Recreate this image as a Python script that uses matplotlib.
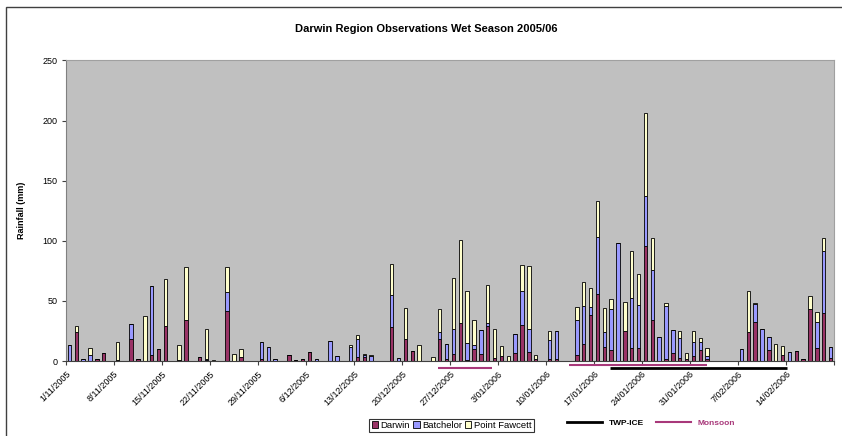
import matplotlib
matplotlib.use("Agg")
import matplotlib.pyplot as plt
from matplotlib.patches import Patch, Rectangle
from matplotlib.lines import Line2D
import matplotlib.transforms as mtransforms
import numpy as np

plt.rcParams['font.family'] = ['Liberation Sans', 'DejaVu Sans']

# Daily rainfall (mm), 1/11/2005 .. 20/02/2006 (112 days)
darwin = [
    0, 24, 0, 0, 2, 7, 0, 1, 0, 18, 2, 0, 5, 10,
    29, 0, 1, 34, 0, 3.5, 0.5, 0.3, 0, 42, 0, 3, 0, 0.3,
    1.5, 0, 0, 0, 4.7, 1, 2, 7.5, 0, 0.3, 0, 0, 0, 0,
    3.3, 3.6, 0, 0, 0, 28, 0, 18, 8.3, 0, 0.3, 0, 18, 1.4,
    5.8, 32, 0.6, 10, 5.8, 29.4, 2.5, 4.2, 0, 6.9, 30, 7.8, 1.4, 0,
    1.7, 1.7, 0.3, 0, 4.7, 14.4, 38.6, 56, 12, 9.2, 0, 24.7, 10.8, 10.6,
    95.8, 34, 0, 1.4, 6.4, 2.2, 1.4, 4.4, 8.9, 1.7, 0.3, 0, 0, 0,
    0, 24.2, 32.5, 0, 9.4, 0, 5.3, 0, 8.3, 1.7, 43.3, 10.6, 39.7, 2.2,
]
batchelor = [
    13, 0, 2, 5, 0, 0, 0, 0, 0, 12.5, 0, 0, 57, 0,
    0, 0, 0, 0, 0, 0, 1.5, 0, 0, 15, 0, 0, 0, 0,
    14, 12, 2, 0, 0, 0, 0, 0, 2, 0, 17, 4, 0, 11.5,
    15, 1.5, 4.5, 0, 0, 27, 2.2, 0, 0, 0, 0, 0, 6, 13,
    21, 0, 14, 3, 20, 2.5, 0, 0, 0, 15.3, 28, 19, 0, 0,
    15.5, 23, 0, 0, 29.2, 31, 6.4, 47, 12.3, 34.4, 98, 0, 41.7, 36,
    41.7, 42, 20.3, 44, 19.7, 16.7, 0, 11, 6.7, 2.5, 0, 0, 0, 0,
    9.7, 0, 15.3, 26.7, 10.9, 0, 0, 7.8, 0, 0, 0, 22, 52, 9.5,
]
point_fawcett = [
    0, 5, 0, 6, 0, 0, 0, 14.5, 0, 0, 0, 37.5, 0, 0,
    39, 0, 12, 44, 0, 0, 25, 0.3, 0, 21, 6, 7, 0, 0,
    0, 0, 0, 0, 0, 0, 0, 0, 0, 0, 0, 0, 0, 2,
    3.4, 1, 0.5, 0, 0, 26, 0, 26, 0, 13, 0, 3, 19.5, 0,
    42, 69, 44, 21, 0, 31, 24, 8, 4.4, 0, 22, 52, 3.3, 0,
    7.5, 0, 0, 0, 11.4, 20, 15.6, 30, 19.4, 7.8, 0, 24.5, 39, 26,
    69, 26, 0, 2.8, 0, 5.8, 5, 9.7, 3.3, 6.9, 0, 0, 0, 0,
    0, 34.4, 0.5, 0, 0, 13.9, 7.2, 0, 0, 0, 10.6, 8.1, 10.3, 0,
]
tick_labels = ['1/11/2005', '8/11/2005', '15/11/2005', '22/11/2005', '29/11/2005',
               '6/12/2005', '13/12/2005', '20/12/2005', '27/12/2005', '3/01/2006',
               '10/01/2006', '17/01/2006', '24/01/2006', '31/01/2006', '7/02/2006',
               '14/02/2006']
# periods as day offsets from 1/11/2005
monsoon_periods = [(54.2, 62.1), (73.3, 93.5)]
twp_ice_period = [(79.3, 105.1)]

c_darwin = '#993366'
c_batch = '#9999FF'
c_pf = '#FFFFCC'
c_monsoon = '#A8387A'

W, H = 842, 436
fig = plt.figure(figsize=(W / 100, H / 100), dpi=100)
fig.patch.set_facecolor('white')

# outer chart border
fig.patches.append(Rectangle((6 / W, -0.1), 2.0, (H - 7) / H + 0.1,
                             transform=fig.transFigure, fill=False,
                             edgecolor='#404040', linewidth=1.0))

left, right, top, bottom = 66, 834, 60.5, 361
ax = fig.add_axes([left / W, (H - bottom) / H, (right - left) / W, (bottom - top) / H])
ax.set_facecolor('#C0C0C0')

n = len(darwin)
x = np.arange(n) + 0.5
d = np.array(darwin, float)
b = np.array(batchelor, float)
p = np.array(point_fawcett, float)
bw = 0.5
kw = dict(width=bw, edgecolor='black', linewidth=0.6)
ax.bar(x, d, color=c_darwin, **kw)
ax.bar(x, b, bottom=d, color=c_batch, **kw)
ax.bar(x, p, bottom=d + b, color=c_pf, **kw)

ax.set_xlim(0, n)
ax.set_ylim(0, 250)
ax.set_yticks(np.arange(0, 251, 50))
ax.tick_params(axis='y', labelsize=6.5, length=3, direction='out', pad=3, color='#404040')
ticks = np.arange(0, n + 1, 7)
ax.set_xticks(ticks)
ax.set_xticklabels(tick_labels + [''], rotation=45, ha='right', va='top',
                   rotation_mode='anchor', fontsize=6.5)
ax.tick_params(axis='x', length=3, direction='out', pad=3, color='#404040')
for s in ['top', 'right']:
    ax.spines[s].set_color('#A0A0A0')
    ax.spines[s].set_linewidth(0.8)
ax.spines['left'].set_color('#808080')
ax.spines['bottom'].set_color('#404040')

ax.set_ylabel('Rainfall (mm)', fontsize=6.5, fontweight='bold', labelpad=12)
fig.text(426 / W, 1 - 29 / H, 'Darwin Region Observations Wet Season 2005/06',
         ha='center', va='center', fontsize=8, fontweight='bold')

# period lines under the axis
trans = mtransforms.blended_transform_factory(ax.transData, ax.transAxes)
ax_h = bottom - top
for (s, e), yy in zip(monsoon_periods, [367.5, 365]):
    ax.plot([s, e], [-(yy - bottom) / ax_h] * 2, color=c_monsoon, lw=1.5,
            transform=trans, clip_on=False, solid_capstyle='butt')
for (s, e) in twp_ice_period:
    ax.plot([s, e], [-(368.3 - bottom) / ax_h] * 2, color='black', lw=2,
            transform=trans, clip_on=False, solid_capstyle='butt')

# legends
handles = [Patch(facecolor=c_darwin, edgecolor='black', linewidth=0.6),
           Patch(facecolor=c_batch, edgecolor='black', linewidth=0.6),
           Patch(facecolor=c_pf, edgecolor='black', linewidth=0.6)]
leg = fig.legend(handles, ['Darwin', 'Batchelor', 'Point Fawcett'], ncol=3,
                 loc='center', bbox_to_anchor=(451.5 / W, 1 - 425.5 / H),
                 fontsize=6.8, frameon=True, fancybox=False, edgecolor='black',
                 handlelength=0.7, handleheight=0.7, handletextpad=0.25,
                 columnspacing=0.3, borderpad=0.25, borderaxespad=0)
leg.get_frame().set_linewidth(0.8)

h2 = [Line2D([0], [0], color='black', lw=2),
      Line2D([0], [0], color=c_monsoon, lw=1.5)]
leg2 = fig.legend(h2, ['TWP-ICE', 'Monsoon'], ncol=2, loc='center',
                  bbox_to_anchor=(651 / W, 1 - 423.5 / H), frameon=False,
                  prop={'weight': 'bold', 'size': 6}, labelcolor=['black', c_monsoon],
                  handlelength=4.2, handletextpad=0.8, columnspacing=1.5,
                  borderaxespad=0)

fig.savefig('out.png', dpi=100, facecolor='white')
